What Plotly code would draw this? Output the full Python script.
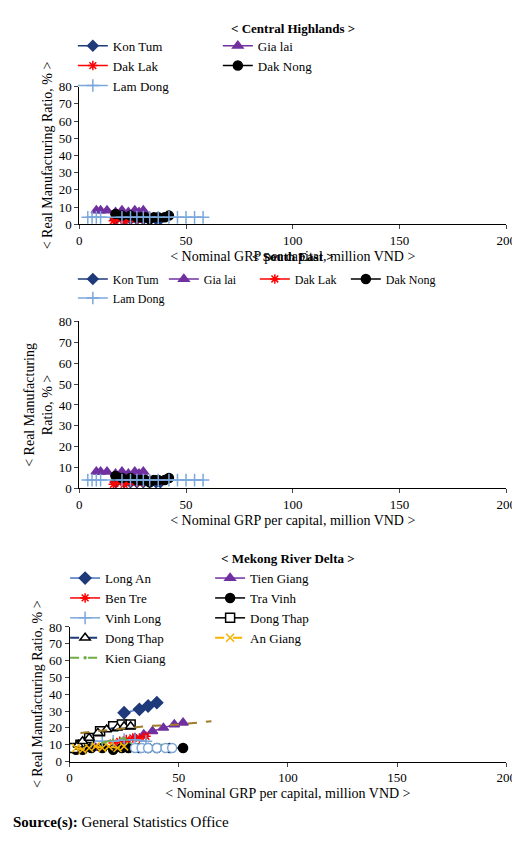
import plotly.graph_objects as go

W, H = 520, 845
names_ch = ["Kon Tum", "Gia lai", "Dak Lak", "Dak Nong", "Lam Dong"]
ch_x = [[17, 21, 24, 27, 30, 33, 36, 38],
        [8, 10, 13, 17, 20, 23, 26, 28, 30],
        [16, 18, 21, 24, 27, 30, 33],
        [17, 20, 24, 27, 29, 31, 33, 35, 37, 40, 42],
        [4, 6, 8, 10, 20, 24, 27, 30, 33, 37, 42, 46, 50, 54, 58]]
ch_y = [[3, 3, 3, 3, 3, 3, 3, 3],
        [8, 8, 8, 7, 8, 7, 8, 7, 8],
        [2, 3, 2, 3, 3, 3, 4],
        [6, 5, 5, 4, 4, 4, 3, 4, 4, 4, 5],
        [4, 4, 4, 4, 4, 4, 4, 4, 4, 4, 4, 4, 4, 4, 4]]
ch_sty = [dict(color="#1f3a7a", symbol="diamond", size=8),
          dict(color="#7030a0", symbol="triangle-up", size=9),
          dict(color="#ff0000", symbol="asterisk-open", size=8),
          dict(color="#000000", symbol="circle", size=9),
          dict(color="#7ba7db", symbol="cross-thin-open", size=9)]

md_names = ["Long An", "Tien Giang", "Ben Tre", "Tra Vinh", "Vinh Long", "Dong Thap",
            "Dong Thap", "An Giang", "Kien Giang"]
md_x = [[25, 32, 36, 40],
        [12, 20, 26, 30, 34, 38, 43, 48, 52],
        [20, 23, 26, 29, 32, 35],
        [3, 6, 10, 15, 20, 24, 27, 32, 36, 40, 46, 52],
        [10, 15, 20, 25, 30, 35],
        [2, 5, 9, 14, 20, 24, 28],
        [4, 6, 9, 13, 17, 22, 25, 28],
        [3, 6, 9, 12, 15, 18, 22, 25],
        [15, 20, 25, 28, 32, 36, 41, 45]]
md_y = [[29, 31, 33, 35],
        [8, 9, 11, 14, 16, 18, 20, 22, 23],
        [11, 12, 13, 14, 14, 15],
        [7, 7, 8, 8, 7, 8, 8, 8, 8, 8, 8, 8],
        [12, 12, 12, 13, 13, 12],
        [8, 10, 14, 18, 21, 22, 22],
        [10, 12, 14, 17, 19, 20, 21, 21],
        [8, 7, 8, 9, 8, 9, 8, 9],
        [11, 13, 14, 11, 10, 10, 10, 10]]
md_sty = [dict(color="#1f3a7a", symbol="diamond", size=9, dash="solid", lc="#4472c4", fill="#1f3a7a"),
          dict(color="#7030a0", symbol="triangle-up", size=9, dash="solid", lc="#7030a0", fill="#7030a0"),
          dict(color="#ff0000", symbol="asterisk-open", size=8, dash="solid", lc="#ff0000", fill="#ff0000"),
          dict(color="#000000", symbol="circle", size=9, dash="solid", lc="#000000", fill="#000000"),
          dict(color="#7ba7db", symbol="cross-thin-open", size=9, dash="solid", lc="#7ba7db", fill="#7ba7db"),
          dict(color="#000000", symbol="square", size=9, dash="solid", lc="#000000", fill="white"),
          dict(color="#000000", symbol="triangle-up", size=9, dash="dash", lc="#1f3a7a", fill="white"),
          dict(color="#f4b400", symbol="x-thin-open", size=8, dash="dash", lc="#f4b400", fill="#f4b400"),
          dict(color="#70ad47", symbol="circle", size=1, dash="dash", lc="#70ad47", fill="#70ad47")]
trend_x = [5, 20, 35, 50, 65]
trend_y = [17, 19, 21, 22, 24]
blue_open_x = [30, 33, 36, 40, 44, 47]
blue_open_y = [8, 8, 8, 8, 8, 8]

F = "Liberation Serif"
fig = go.Figure()

panels = [(70, 508, 73, 213), (70, 508, 312, 482), (60, 508, 623, 760)]
titles = ["< Central Highlands >", "< South East >", "< Mekong River Delta >"]
title_y = [4, 236, 544]
legend_y = [16, 254, 558]
legend_x = [80, 80, 70]
entryw = [100, 46, 100]

for i in range(3):
    ax = "" if i == 0 else str(i + 1)
    x0, x1, yt, yb = panels[i]
    lg = "legend" if i == 0 else f"legend{i+1}"
    if i < 2:
        for n, xs, ys, s in zip(names_ch, ch_x, ch_y, ch_sty):
            fig.add_trace(go.Scatter(x=xs, y=ys, name=n, mode="lines+markers",
                xaxis="x" + ax, yaxis="y" + ax, legend=lg,
                line=dict(color=s["color"], width=1.5),
                marker=dict(symbol=s["symbol"], size=s["size"], color=s["color"],
                            line=dict(color=s["color"], width=1.5))))
    else:
        for n, xs, ys, s in zip(md_names, md_x, md_y, md_sty):
            fig.add_trace(go.Scatter(x=xs, y=ys, name=n, mode="lines+markers",
                xaxis="x3", yaxis="y3", legend="legend3",
                line=dict(color=s["lc"], width=2 if s["dash"] == "dash" else 1.5, dash=s["dash"]),
                marker=dict(symbol=s["symbol"], size=s["size"], color=s["fill"],
                            line=dict(color=s["color"], width=1.5))))
        fig.add_trace(go.Scatter(x=blue_open_x, y=blue_open_y, mode="markers", showlegend=False,
            xaxis="x3", yaxis="y3", marker=dict(symbol="circle", size=9, color="white",
            line=dict(color="#7ba7db", width=1.5))))
        fig.add_trace(go.Scatter(x=trend_x, y=trend_y, mode="lines", showlegend=False,
            xaxis="x3", yaxis="y3", line=dict(color="#a07d2a", width=2, dash="dash")))
    fig.update_layout(**{
        "xaxis" + ax: dict(domain=[x0 / W, x1 / W], range=[0, 200], dtick=50,
            anchor="y" + ax, showgrid=False, zeroline=False, showline=True, linecolor="black",
            ticks="outside", ticklen=4, tickfont=dict(family=F, size=13, color="black"),
            title=dict(text="< Nominal GRP per capital, million VND >", standoff=4,
                       font=dict(family=F, size=14, color="black"))),
        "yaxis" + ax: dict(domain=[1 - yb / H, 1 - yt / H], range=[0, 80], dtick=10,
            anchor="x" + ax, showgrid=False, zeroline=False, showline=True, linecolor="black",
            ticks="outside", ticklen=4, tickfont=dict(family=F, size=13, color="black"),
            title=dict(text="< Real Manufacturing Ratio, % >" if i != 1 else "< Real Manufacturing<br>Ratio, % >",
                       standoff=2, font=dict(family=F, size=14, color="black"))),
        lg: dict(orientation="h", x=legend_x[i] / W, y=1 - legend_y[i] / H, xanchor="left",
                 yanchor="top", entrywidth=entryw[i], itemwidth=30,
                 font=dict(family=F, size=13 if i != 1 else 12, color="black"),
                 bgcolor="rgba(0,0,0,0)", tracegroupgap=0),
    })
    fig.add_annotation(text="<b>" + titles[i] + "</b>", x=(x0 + x1) / 2 / W, y=1 - title_y[i] / H,
        xref="paper", yref="paper", showarrow=False, yanchor="top",
        font=dict(family=F, size=13, color="black"))

fig.add_annotation(text="<b>Source(s):</b> General Statistics Office", x=0, y=1 - 822 / H,
    xref="paper", yref="paper", showarrow=False, xanchor="left", yanchor="middle",
    font=dict(family=F, size=15, color="black"))

fig.update_layout(width=W, height=H, margin=dict(l=0, r=0, t=0, b=0),
    plot_bgcolor="white", paper_bgcolor="white")
fig.write_html("out.html")
